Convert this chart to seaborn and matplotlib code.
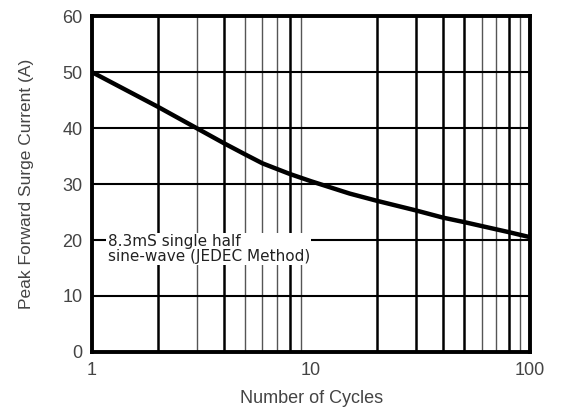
import numpy as np
import pandas as pd
import matplotlib
matplotlib.use("Agg")
import matplotlib.pyplot as plt
import seaborn as sns

# Surge curve
cycles = [1, 2, 3, 4, 5, 6, 8, 10, 15, 20, 30, 40, 50, 60, 80, 100]
current = [50, 43.8, 40, 37.3, 35.3, 33.7, 31.8, 30.5, 28.3, 27, 25.3, 24, 23.2, 22.5, 21.4, 20.5]

y_ticks = [0, 10, 20, 30, 40, 50, 60]
x_ticks = [1, 10, 100]
x_labels = ["1", "10", "100"]

df = pd.DataFrame({"cycles": cycles, "current": current})

sns.set_style("white")
plt.rcParams["font.family"] = ["Liberation Sans", "DejaVu Sans"]

fig = plt.figure(figsize=(5.61, 4.15), dpi=100)
ax = fig.add_axes([0.164, 0.152, 0.781, 0.809])

ax.set_xscale("log")
ax.set_xlim(1, 100)
ax.set_ylim(0, 60)

# grid lines: heavier decade/major lines, lighter minor ones
for dec in [1, 10]:
    for m in range(2, 10):
        xv = dec * m
        heavy = m in (2, 4, 8) or (dec == 10 and m in (3, 5))
        ax.axvline(xv, color="black" if heavy else "#555555",
                   lw=1.8 if heavy else 1.0, zorder=1)
for yv in y_ticks[1:-1]:
    ax.axhline(yv, color="black", lw=1.5, zorder=1)

sns.lineplot(data=df, x="cycles", y="current", color="black", linewidth=3.2, ax=ax, zorder=3)

ax.text(1.18, 18.4, "8.3mS single half\nsine-wave (JEDEC Method)", fontsize=11,
        family="DejaVu Sans", color="#222222", va="center", ha="left",
        linespacing=0.95, zorder=4,
        bbox=dict(facecolor="white", edgecolor="none", pad=1))

ax.set_yticks(y_ticks)
ax.set_xticks(x_ticks)
ax.set_xticklabels(x_labels)
ax.minorticks_off()
ax.tick_params(axis="both", length=0, labelsize=13, labelcolor="#444444", pad=7)
ax.set_xlabel("Number of Cycles", fontsize=13, color="#444444", labelpad=8)
ax.set_ylabel("Peak Forward Surge Current (A)", fontsize=12.5, color="#444444", labelpad=20)

for s in ax.spines.values():
    s.set_color("black")
    s.set_linewidth(2.8)
    s.set_zorder(5)

plt.savefig("out.png", dpi=100)
